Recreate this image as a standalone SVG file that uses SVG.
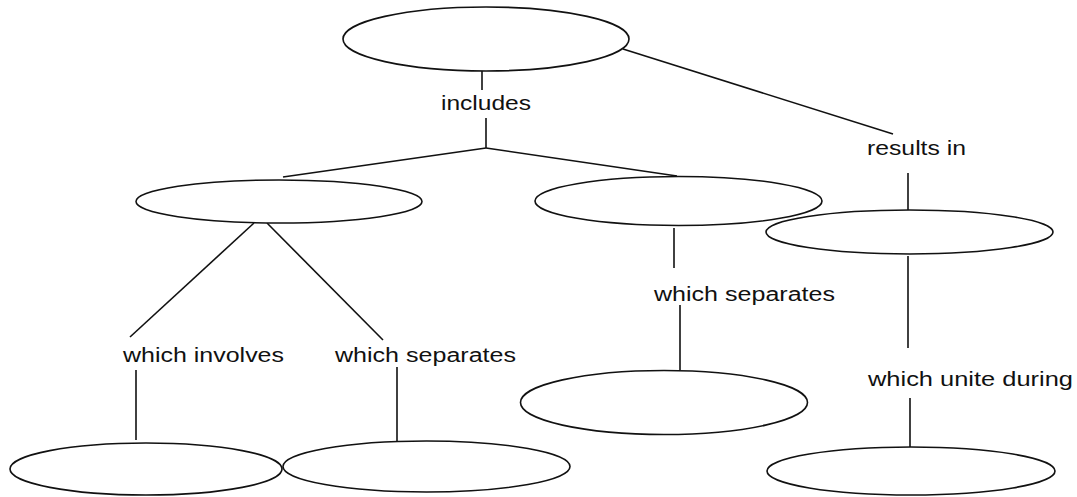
<svg xmlns="http://www.w3.org/2000/svg" width="1077" height="497" viewBox="0 0 1077 497">
<style>
.n{fill:#fff;stroke:#111;stroke-width:1.6}
.c line{stroke:#111;stroke-width:1.6;fill:none}
.t{font-family:"Liberation Sans",Arial,sans-serif;font-size:20px;fill:#111}
</style>
<rect width="1077" height="497" fill="#fff"/>
<g id="connectors" class="c">
<line x1="482" y1="71" x2="482" y2="90"/>
<line x1="486" y1="118" x2="486" y2="148"/>
<line x1="486" y1="148" x2="283" y2="177"/>
<line x1="486" y1="148" x2="677" y2="176"/>
<line x1="623" y1="49" x2="893" y2="134"/>
<line x1="908" y1="173" x2="908" y2="210"/>
<line x1="254" y1="223" x2="130" y2="337"/>
<line x1="267" y1="223" x2="383" y2="340"/>
<line x1="136" y1="370" x2="136" y2="440"/>
<line x1="397" y1="367" x2="397" y2="441"/>
<line x1="674" y1="228" x2="674" y2="268"/>
<line x1="680" y1="305" x2="680" y2="370"/>
<line x1="908" y1="256" x2="908" y2="348"/>
<line x1="910" y1="398" x2="910" y2="447"/>
</g>
<g id="top"><ellipse class="n" cx="486" cy="39" rx="143" ry="32"/></g>
<g id="midLeft"><ellipse class="n" cx="279" cy="201.5" rx="143" ry="21.5"/></g>
<g id="midCenter"><ellipse class="n" cx="678.5" cy="201" rx="143.5" ry="24.5"/></g>
<g id="midRight"><ellipse class="n" cx="909.5" cy="232" rx="143.5" ry="22"/></g>
<g id="bottom1"><ellipse class="n" cx="146" cy="469" rx="136" ry="26"/></g>
<g id="bottom2"><ellipse class="n" cx="426.5" cy="466.5" rx="143.5" ry="25.5"/></g>
<g id="lowCenter"><ellipse class="n" cx="664" cy="402.5" rx="143.5" ry="32"/></g>
<g id="bottom4"><ellipse class="n" cx="911" cy="471" rx="144" ry="24"/></g>
<g id="labels">
<text class="t" x="441" y="110" textLength="90" lengthAdjust="spacingAndGlyphs">includes</text>
<text class="t" x="867" y="155" textLength="99" lengthAdjust="spacingAndGlyphs">results in</text>
<text class="t" x="123" y="362" textLength="161" lengthAdjust="spacingAndGlyphs">which involves</text>
<text class="t" x="335" y="362" textLength="181" lengthAdjust="spacingAndGlyphs">which separates</text>
<text class="t" x="654" y="301" textLength="181" lengthAdjust="spacingAndGlyphs">which separates</text>
<text class="t" x="868" y="386" textLength="205" lengthAdjust="spacingAndGlyphs">which unite during</text>
</g>
</svg>
